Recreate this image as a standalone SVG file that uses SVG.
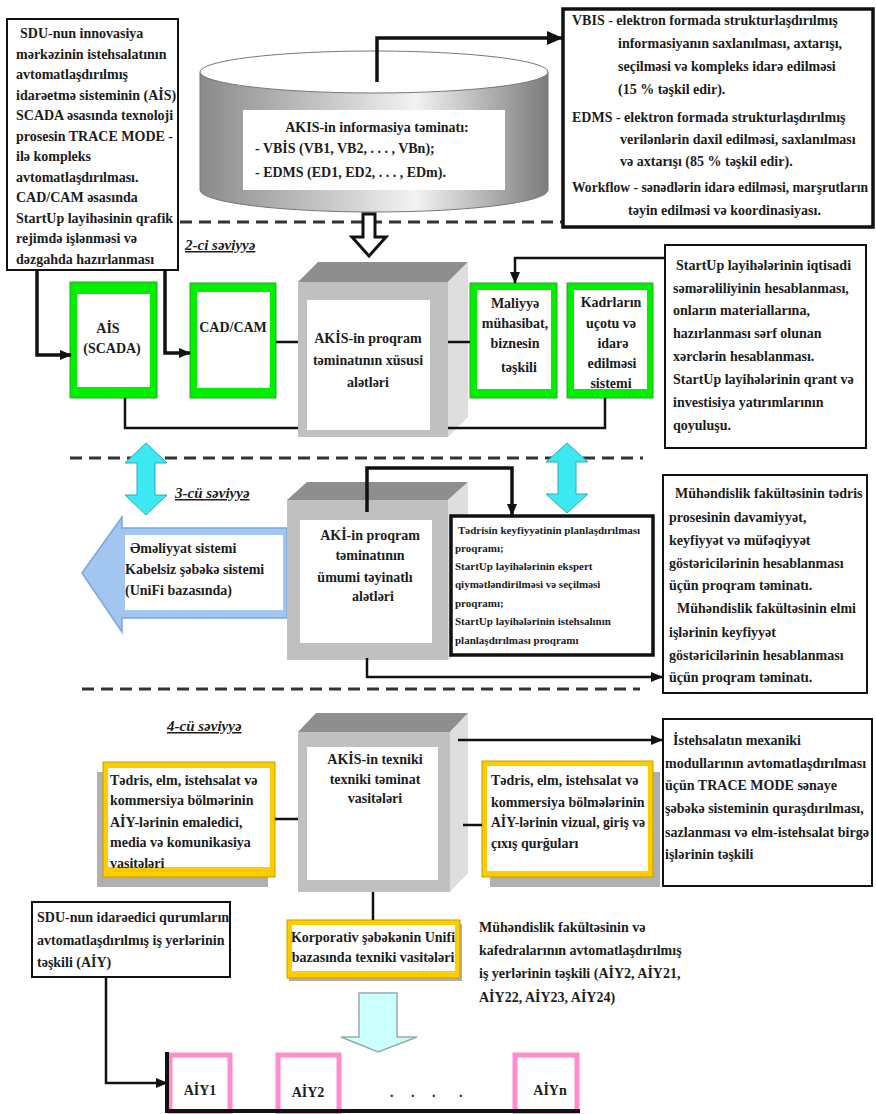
<svg xmlns="http://www.w3.org/2000/svg" width="876" height="1114" viewBox="0 0 876 1114">
<defs>
<style>
text{font-family:"Liberation Serif","Times New Roman",serif;font-weight:bold;font-size:14px;fill:#1c1c1c}
.c{text-anchor:middle}
.s{font-size:11px}
.lbl{font-style:italic;font-size:15px;text-decoration:underline}
.box{fill:#fff;stroke:#111;stroke-width:2}
.bx3{fill:#fff;stroke:#111;stroke-width:3.5}
.ln{fill:none;stroke:#111;stroke-width:2.5}
.lnt{fill:none;stroke:#111;stroke-width:3.5}
.dash{fill:none;stroke:#333;stroke-width:3;stroke-dasharray:12 7}
.grn{fill:#00f000;stroke:#30a030;stroke-width:1}
.yel{fill:#ffcc00;stroke:#c89b00;stroke-width:1}
.shd{fill:#b0b0b0}
.in{fill:#fff}
.ctop{fill:#8e8e8e}
.cfr{fill:#c0c0c0}
.csd{fill:#dedede}
.pink{fill:#fff;stroke:#ff8ccc;stroke-width:5}
.cyan{fill:#3ce8f2;stroke:#2aaab8;stroke-width:1}
</style>
<linearGradient id="cyl" x1="0" x2="1" y1="0" y2="0">
<stop offset="0" stop-color="#8a8a8a"/><stop offset="0.62" stop-color="#f2f2f2"/><stop offset="1" stop-color="#7c7c7c"/>
</linearGradient>
<marker id="ah" viewBox="0 0 12 10" refX="11" refY="5" markerWidth="12" markerHeight="10" markerUnits="userSpaceOnUse" orient="auto"><path d="M0,0 L12,5 L0,10 Z" fill="#111"/></marker>
<marker id="ahL" viewBox="0 0 16 14" refX="15" refY="7" markerWidth="16" markerHeight="14" markerUnits="userSpaceOnUse" orient="auto"><path d="M0,0 L16,7 L0,14 Z" fill="#111"/></marker>
</defs>
<rect width="876" height="1114" fill="#fff"/>

<g id="separators">
<line class="dash" x1="180" y1="222" x2="562" y2="222"/>
<line class="dash" x1="70" y1="458" x2="643" y2="458"/>
<line class="dash" x1="82" y1="689" x2="640" y2="689"/>
<text class="lbl" x="185" y="250">2-ci səviyyə</text>
<text class="lbl" x="175" y="498">3-cü səviyyə</text>
<text class="lbl" x="167" y="731">4-cü səviyyə</text>
</g>

<g id="sdu-innovation">
<rect class="box" x="7" y="19" width="171" height="251"/>
<text x="20" y="38">SDU-nun innovasiya</text>
<text x="16" y="58.5">mərkəzinin istehsalatının</text>
<text x="16" y="79">avtomatlaşdırılmış</text>
<text x="16" y="99.5">idarəetmə sisteminin (AİS)</text>
<text x="16" y="120">SCADA əsasında texnoloji</text>
<text x="16" y="140.5">prosesin TRACE MODE -</text>
<text x="16" y="161">ilə kompleks</text>
<text x="16" y="181.5">avtomatlaşdırılması.</text>
<text x="16" y="202">CAD/CAM əsasında</text>
<text x="16" y="222.5">StartUp layihəsinin qrafik</text>
<text x="16" y="243">rejimdə işlənməsi və</text>
<text x="16" y="263.5">dəzgahda hazırlanması</text>
</g>

<g id="akis-info">
<path d="M200,72 L200,190 A174,22 0 0,0 548,190 L548,72 Z" fill="url(#cyl)" stroke="#777" stroke-width="1"/>
<ellipse cx="374" cy="72" rx="174" ry="21" fill="#fff" stroke="#777" stroke-width="1"/>
<rect x="243" y="110" width="262" height="80" fill="#fff"/>
<text class="c" x="377" y="132">AKIS-in informasiya təminatı:</text>
<text x="255" y="153">- VBİS (VB1, VB2, . . . , VBn);</text>
<text x="255" y="177">- EDMS (ED1, ED2, . . . , EDm).</text>
</g>

<g id="vbis-edms">
<rect class="bx3" x="563" y="9" width="310" height="218"/>
<text x="572" y="25">VBIS - elektron formada strukturlaşdırılmış</text>
<text x="618" y="48">informasiyanın saxlanılması, axtarışı,</text>
<text x="618" y="71">seçilməsi və kompleks idarə edilməsi</text>
<text x="618" y="94">(15 % təşkil edir).</text>
<text x="572" y="122">EDMS - elektron formada strukturlaşdırılmış</text>
<text x="620" y="144">verilənlərin daxil edilməsi, saxlanılması</text>
<text x="620" y="166">və axtarışı (85 % təşkil edir).</text>
<text x="572" y="192" textLength="296" lengthAdjust="spacingAndGlyphs">Workflow - sənədlərin idarə edilməsi, marşrutların</text>
<text x="628" y="215">təyin edilməsi və koordinasiyası.</text>
</g>

<g id="open-arrow">
<polygon points="363,214 375,214 375,237 386,237 369,256 352,237 363,237" fill="#fff" stroke="#111" stroke-width="3" stroke-linejoin="miter"/>
</g>

<g id="ais-scada">
<rect class="grn" x="70" y="282" width="87" height="116"/>
<rect class="in" x="77" y="294" width="73" height="93"/>
<text class="c" x="108" y="333">AİS</text>
<text class="c" x="112" y="353">(SCADA)</text>
</g>

<g id="cad-cam">
<rect class="grn" x="190" y="283" width="86" height="115"/>
<rect class="in" x="197" y="292" width="73" height="96"/>
<text class="c" x="233" y="332">CAD/CAM</text>
</g>

<g id="akis-special">
<polygon class="ctop" points="298,282 318,262 468,262 448,282"/>
<polygon class="csd" points="448,282 468,262 468,417 448,437"/>
<rect class="cfr" x="298" y="282" width="150" height="155"/>
<rect class="in" x="307" y="300" width="123" height="130"/>
<text class="c" x="368" y="343">AKİS-in proqram</text>
<text class="c" x="368" y="365">təminatının xüsusi</text>
<text class="c" x="368" y="387">alətləri</text>
</g>

<g id="maliyye">
<rect class="grn" x="470" y="283" width="87" height="115"/>
<rect class="in" x="477" y="290" width="74" height="99"/>
<text class="c" x="515" y="308">Maliyyə</text>
<text class="c" x="515" y="328">mühasibat,</text>
<text class="c" x="515" y="348">biznesin</text>
<text class="c" x="519" y="372">təşkili</text>
</g>

<g id="kadrlar">
<rect class="grn" x="567" y="283" width="86" height="115"/>
<rect class="in" x="574" y="290" width="73" height="99"/>
<text class="c" x="611" y="307">Kadrların</text>
<text class="c" x="611" y="328">uçotu və</text>
<text class="c" x="613" y="348">idarə</text>
<text class="c" x="612" y="368">edilməsi</text>
<text class="c" x="611" y="388">sistemi</text>
</g>

<g id="startup-econ">
<rect class="box" x="665" y="245" width="201" height="203" stroke-width="2.5"/>
<text x="676" y="270">StartUp layihələrinin iqtisadi</text>
<text x="673" y="293">səmərəliliyinin hesablanması,</text>
<text x="673" y="315">onların materiallarına,</text>
<text x="673" y="338">hazırlanması sərf olunan</text>
<text x="673" y="361">xərclərin hesablanması.</text>
<text x="673" y="384">StartUp layihələrinin qrant və</text>
<text x="673" y="407">investisiya yatırımlarının</text>
<text x="673" y="430">qoyuluşu.</text>
</g>

<g id="cyan-left">
<polygon class="cyan" points="146,443 167,463 155,463 155,495 167,495 146,515 125,495 137,495 137,463 125,463"/>
</g>
<g id="cyan-right">
<polygon class="cyan" points="567,443 588,462 576,462 576,494 588,494 567,513 546,494 558,494 558,462 546,462"/>
</g>

<g id="os-arrow">
<polygon points="82,573 122,517 122,528 287,528 287,618 122,618 122,632" fill="#a2c6f0" stroke="#7aa6dc" stroke-width="1.5"/>
<rect class="in" x="125" y="535" width="158" height="75"/>
<text x="130" y="553">Əməliyyat sistemi</text>
<text x="125" y="574">Kabelsiz şəbəkə sistemi</text>
<text x="125" y="595">(UniFi bazasında)</text>
</g>

<g id="aki-general">
<polygon class="ctop" points="287,500 307,482 468,482 448,500"/>
<polygon class="csd" points="448,500 468,482 468,642 448,660"/>
<rect class="cfr" x="287" y="500" width="161" height="160"/>
<rect class="in" x="300" y="520" width="132" height="123"/>
<text class="c" x="370" y="540">AKİ-in proqram</text>
<text class="c" x="370" y="560">təminatının</text>
<text class="c" x="365" y="582">ümumi təyinatlı</text>
<text class="c" x="373" y="601">alətləri</text>
</g>

<g id="tedris-programs">
<rect class="bx3" x="451" y="516" width="202" height="139"/>
<text class="s" x="458" y="534">Tədrisin keyfiyyətinin planlaşdırılması</text>
<text class="s" x="455" y="552">proqramı;</text>
<text class="s" x="455" y="570">StartUp layihələrinin ekspert</text>
<text class="s" x="455" y="588">qiymətləndirilməsi və seçilməsi</text>
<text class="s" x="455" y="607">proqramı;</text>
<text class="s" x="455" y="625">StartUp layihələrinin istehsalının</text>
<text class="s" x="455" y="644">planlaşdırılması proqramı</text>
</g>

<g id="muhendislik-software">
<rect class="box" x="663" y="475" width="204" height="218" stroke-width="2.5"/>
<text x="675" y="498">Mühəndislik fakültəsinin tədris</text>
<text x="669" y="522">prosesinin davamiyyət,</text>
<text x="669" y="545">keyfiyyət və müfəqiyyət</text>
<text x="669" y="568">göstəricilərinin hesablanması</text>
<text x="669" y="590">üçün proqram təminatı.</text>
<text x="677" y="613">Mühəndislik fakültəsinin elmi</text>
<text x="669" y="637">işlərinin keyfiyyət</text>
<text x="669" y="660">göstəricilərinin hesablanması</text>
<text x="669" y="682">üçün proqram təminatı.</text>
</g>

<g id="akis-technical">
<polygon class="ctop" points="298,732 316,713 468,713 450,732"/>
<polygon class="csd" points="450,732 468,713 468,873 450,892"/>
<rect class="cfr" x="298" y="732" width="152" height="160"/>
<rect class="in" x="307" y="747" width="131" height="133"/>
<text class="c" x="375" y="764">AKİS-in texniki</text>
<text class="c" x="375" y="784">texniki təminat</text>
<text class="c" x="375" y="803">vasitələri</text>
</g>

<g id="processing-media">
<rect class="shd" x="97" y="772" width="171" height="115"/>
<rect class="yel" x="103" y="762" width="172" height="115"/>
<rect class="in" x="108" y="768" width="162" height="99"/>
<text x="110" y="785">Tədris, elm, istehsalat və</text>
<text x="110" y="805">kommersiya bölmərinin</text>
<text x="110" y="827">AİY-lərinin emaledici,</text>
<text x="110" y="847">media və komunikasiya</text>
<text x="110" y="868">vasitələri</text>
</g>

<g id="visual-io">
<rect class="shd" x="490" y="772" width="170" height="115"/>
<rect class="yel" x="482" y="761" width="171" height="116"/>
<rect class="in" x="487" y="766" width="161" height="105"/>
<text x="491" y="785">Tədris, elm, istehsalat və</text>
<text x="491" y="807">kommersiya bölmələrinin</text>
<text x="491" y="827" textLength="154" lengthAdjust="spacingAndGlyphs">AİY-lərinin vizual, giriş və</text>
<text x="491" y="848">çıxış qurğuları</text>
</g>

<g id="trace-mode">
<rect class="box" x="663" y="719" width="209" height="167" stroke-width="2.5"/>
<text x="673" y="745">İstehsalatın mexaniki</text>
<text x="665" y="768">modullarının avtomatlaşdırılması</text>
<text x="665" y="790">üçün TRACE MODE sənaye</text>
<text x="665" y="813">şəbəkə sisteminin quraşdırılması,</text>
<text x="665" y="837" textLength="204" lengthAdjust="spacingAndGlyphs">sazlanması və elm-istehsalat birgə</text>
<text x="665" y="859">işlərinin təşkili</text>
</g>

<g id="korporativ">
<rect class="shd" x="289" y="924" width="173" height="57"/>
<rect class="yel" x="287" y="920" width="173" height="58"/>
<rect class="in" x="292" y="925" width="163" height="46"/>
<text class="c" x="373" y="942">Korporativ şəbəkənin Unifi</text>
<text class="c" x="373" y="962">bazasında texniki vasitələri</text>
</g>

<g id="sdu-management">
<rect class="box" x="32" y="902" width="198" height="75" stroke-width="3"/>
<text x="37" y="922">SDU-nun idarəedici qurumların</text>
<text x="37" y="945">avtomatlaşdırılmış iş yerlərinin</text>
<text x="37" y="967">təşkili (AİY)</text>
</g>

<g id="muhendislik-aiy">
<text x="479" y="932">Mühəndislik fakültəsinin və</text>
<text x="479" y="955">kafedralarının avtomatlaşdırılmış</text>
<text x="479" y="978">iş yerlərinin təşkili (AİY2, AİY21,</text>
<text x="479" y="1002">AİY22, AİY23, AİY24)</text>
</g>

<g id="down-arrow">
<polygon points="359,993 397,993 397,1037 417,1037 378,1052 341,1037 359,1037" fill="#ccffff" stroke="#9aa" stroke-width="1.5"/>
</g>

<g id="aiy1">
<rect class="pink" x="170" y="1055" width="60" height="60"/>
<text class="c" x="200" y="1095">AİY1</text>
</g>
<g id="aiy2">
<rect class="pink" x="278" y="1055" width="61" height="60"/>
<text class="c" x="308" y="1097">AİY2</text>
</g>
<g id="dots">
<text x="390" y="1097">.</text><text x="411" y="1097">.</text><text x="432" y="1097">.</text><text x="459" y="1097">.</text>
</g>
<g id="aiyn">
<rect class="pink" x="515" y="1055" width="62" height="60"/>
<text class="c" x="550" y="1095">AİYn</text>
</g>

<g id="connectors">
<path class="lnt" d="M37,270 V355 H71" marker-end="url(#ah)"/>
<path class="lnt" d="M165,270 V353 H190" marker-end="url(#ah)"/>
<path class="lnt" d="M377,82 V38 H562" marker-end="url(#ahL)"/>
<path class="ln" d="M276,342 H298"/>
<path class="ln" d="M125,398 V428 H298"/>
<path class="ln" d="M448,428 H605 V398"/>
<path class="ln" d="M448,342 H470"/>
<path class="ln" d="M665,258 H515 V283" marker-end="url(#ah)"/>
<path class="lnt" d="M367,512 V468 H512 V515" marker-end="url(#ah)"/>
<path class="ln" d="M367,658 V677 H662" marker-end="url(#ah)"/>
<path class="ln" d="M275,819 H298"/>
<path class="ln" d="M463,825 H482"/>
<path class="ln" d="M458,740 H662" marker-end="url(#ah)"/>
<path class="ln" d="M373,892 V920"/>
<path class="ln" d="M106,977 V1083 H167" marker-end="url(#ah)"/>
<path fill="none" stroke="#111" stroke-width="4" d="M167,1052 V1111 H580"/>
</g>
</svg>
